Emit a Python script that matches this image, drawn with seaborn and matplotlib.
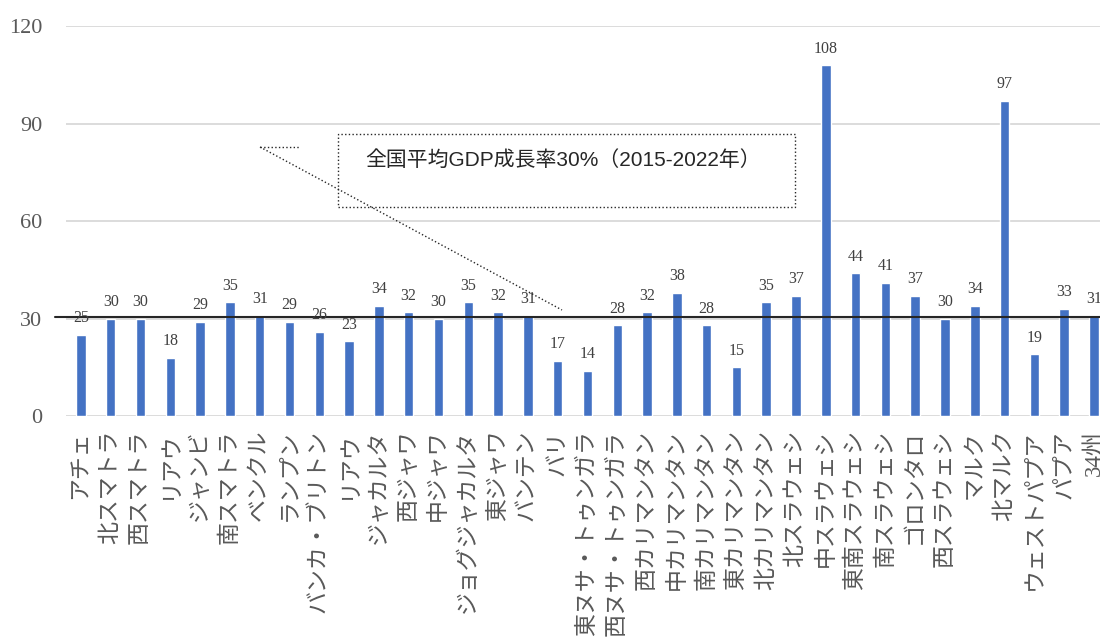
import pandas as pd
import matplotlib.pyplot as plt
import seaborn as sns
from matplotlib.patches import Rectangle
from matplotlib.lines import Line2D

# GDP growth 2015-2022 (%) by province
provinces = ['アチェ', '北スマトラ', '西スマトラ', 'リアウ', 'ジャンビ', '南スマトラ',
             'ベンクル', 'ランプン', 'バンカ・ブリトン', 'リアウ', 'ジャカルタ', '西ジャワ',
             '中ジャワ', 'ジョグジャカルタ', '東ジャワ', 'バンテン', 'バリ',
             '東ヌサ・トゥンガラ', '西ヌサ・トゥンガラ', '西カリマンタン', '中カリマンタン',
             '南カリマンタン', '東カリマンタン', '北カリマンタン', '北スラウェシ',
             '中スラウェシ', '東南スラウェシ', '南スラウェシ', 'ゴロンタロ', '西スラウェシ',
             'マルク', '北マルク', 'ウェストパプア', 'パプア', '34州']
growth = [25, 30, 30, 18, 29, 35, 31, 29, 26, 23, 34, 32, 30, 35, 32, 31, 17,
          14, 28, 32, 38, 28, 15, 35, 37, 108, 44, 41, 37, 30, 34, 97, 19, 33, 31]
national_avg = 30.4
yticks = [0, 30, 60, 90, 120]
note = '全国平均GDP成長率30%（2015-2022年）'

sns.set_style("white")
plt.rcParams['font.family'] = ['Liberation Serif', 'Noto Sans CJK JP']

W, H = 1100, 643
fx = lambda x: x / W
fy = lambda y: 1 - y / H

fig = plt.figure(figsize=(11, 6.43), dpi=100)
ax = fig.add_axes([fx(66), fy(416), 1 - fx(66), (416 - 26) / H])

df = pd.DataFrame({'pos': range(len(provinces)), 'growth': growth})
sns.barplot(data=df, x='pos', y='growth', color='#4472C4', saturation=1,
            width=0.32, ax=ax)

for i, v in enumerate(growth):
    ax.annotate(str(v), (i, v), xytext=(0, 6), textcoords='offset points',
                ha='center', va='bottom', fontsize=11.5, color='#404040')

ax.axhline(national_avg, xmin=-0.011, xmax=1, color='#262626', lw=1.5, clip_on=False)

ax.set_ylim(0, 120)
ax.set_yticks(yticks)
ax.set_xlim(-0.5, 34.2)
ax.set_xticks(range(len(provinces)))
ax.set_xticklabels(provinces, rotation=90, fontsize=16.5, color='#595959')
ax.tick_params(axis='y', length=0, pad=17, labelsize=16, labelcolor='#595959')
ax.tick_params(axis='x', length=0, pad=10)
ax.set_xlabel('')
ax.set_ylabel('')
ax.yaxis.grid(True, color='#d9d9d9', lw=1.3)
ax.set_axisbelow(True)
sns.despine(ax=ax, left=True, bottom=True)

# callout
fig.add_artist(Rectangle((fx(338), fy(207)), fx(795) - fx(338), fy(134) - fy(207),
                         transform=fig.transFigure, fill=False, ls=':', lw=1, ec='#262626'))
fig.text(fx(365), fy(160), note, ha='left', va='center', fontsize=15,
         color='#262626', family=['Liberation Sans', 'Noto Sans CJK JP'])
fig.add_artist(Line2D([fx(260), fx(300)], [fy(147), fy(147)], transform=fig.transFigure,
                      ls=':', lw=1, color='#262626'))
fig.add_artist(Line2D([fx(260), fx(562)], [fy(147), fy(310)], transform=fig.transFigure,
                      ls=':', lw=1, color='#262626'))

fig.savefig('out.png', dpi=100)
